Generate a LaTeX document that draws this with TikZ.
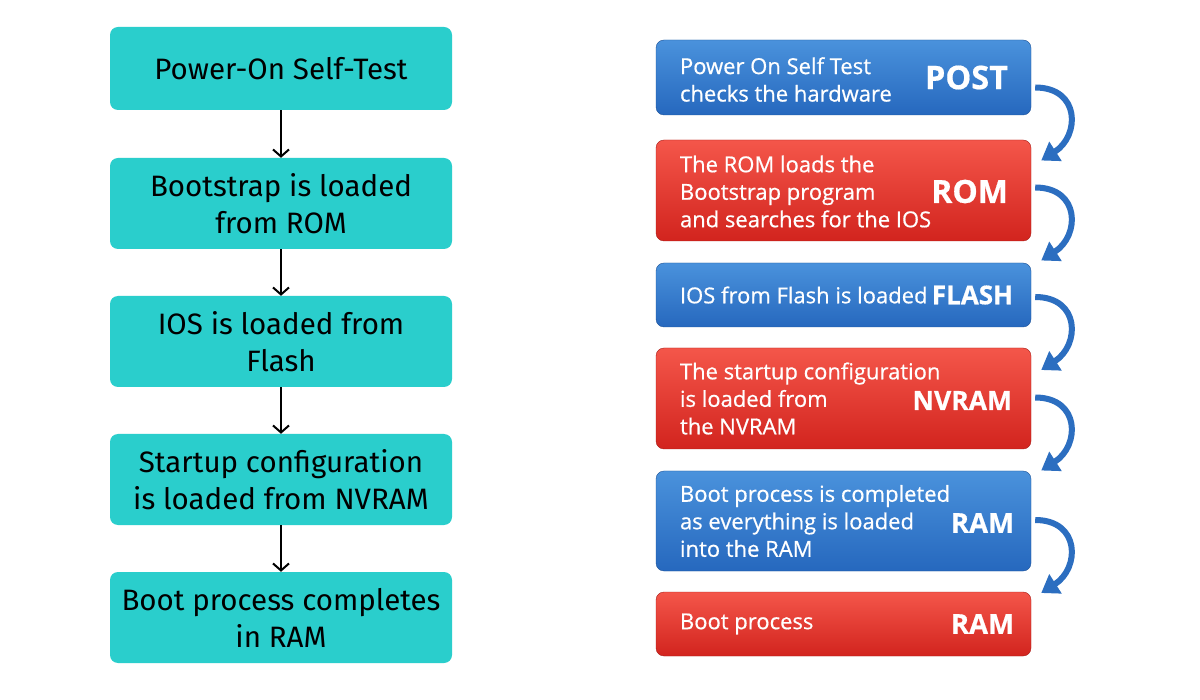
\documentclass[tikz,border=0pt]{standalone}
\usepackage{fontspec}
\setmainfont{Open Sans}
\newfontfamily\lfont{Fira Sans}
\newfontfamily\rfont[FakeBold=0.6]{Open Sans}
\usetikzlibrary{arrows.meta,calc}
\definecolor{teal1}{RGB}{42,206,204}
\definecolor{bluetop}{RGB}{74,146,220}
\definecolor{bluebot}{RGB}{38,104,190}
\definecolor{redtop}{RGB}{244,86,74}
\definecolor{redbot}{RGB}{210,36,30}
\definecolor{arrowblue}{RGB}{44,110,192}
\tikzset{
  lbox/.style={rectangle, rounded corners=8pt, fill=teal1, minimum width=342pt, inner sep=0pt, align=center,
     font=\lfont\fontsize{29.5}{37}\selectfont, text=black},
  bbox/.style={rectangle, rounded corners=8pt, minimum width=375pt, inner sep=0pt, top color=bluetop, bottom color=bluebot, draw=bluebot!80!black, line width=0.4pt},
  rbox/.style={rectangle, rounded corners=8pt, minimum width=375pt, inner sep=0pt, top color=redtop, bottom color=redbot, draw=redbot!80!black, line width=0.4pt},
  rtext/.style={anchor=west, align=left, inner sep=0pt, text=white, font=\rfont\fontsize{22}{27.5}\selectfont},
  rlabel/.style={anchor=east, inner sep=0pt, text=white, font=\rfont\bfseries\fontsize{#1}{34}\selectfont},
  rlabel/.default=31,
  darrow/.style={-{Straight Barb[length=7pt,width=16pt]}, line width=2pt, black},
  carrow/.style={-{Triangle[length=17pt,width=22pt]}, line width=6pt, arrowblue},
}
\begin{document}
\begin{tikzpicture}[x=1pt,y=-1pt]
\useasboundingbox (0,0) rectangle (1200,700);
\fill[white] (0,0) rectangle (1200,700);
% left column
\node[lbox, minimum height=83pt] (l1) at (281,68.5) {Power-On Self-Test};
\node[lbox, minimum height=91pt] (l2) at (281,203.5) {Bootstrap is loaded\\from ROM};
\node[lbox, minimum height=91pt] (l3) at (281,341.5) {IOS is loaded from\\Flash};
\node[lbox, minimum height=91pt] (l4) at (281,479.5) {Startup configuration\\is loaded from NVRAM};
\node[lbox, minimum height=91pt] (l5) at (281,617.5) {Boot process completes\\in RAM};
\draw[darrow] (l1.south) -- (l2.north);
\draw[darrow] (l2.south) -- (l3.north);
\draw[darrow] (l3.south) -- (l4.north);
\draw[darrow] (l4.south) -- (l5.north);
% right column
\node[bbox, minimum height=75pt] (r1) at (843.5,77.5) {};
\node[rbox, minimum height=101pt] (r2) at (843.5,190.5) {};
\node[bbox, minimum height=64pt] (r3) at (843.5,295) {};
\node[rbox, minimum height=101pt] (r4) at (843.5,398.5) {};
\node[bbox, minimum height=100pt] (r5) at (843.5,521) {};
\node[rbox, minimum height=64pt] (r6) at (843.5,624) {};
\node[rtext] (t1) at ([xshift=24pt,yshift=-2pt]r1.west) {Power On Self Test\\checks the hardware};
\node[rtext] (t2) at ([xshift=24pt,yshift=-1pt]r2.west) {The ROM loads the\\Bootstrap program\\and searches for the IOS};
\node[rtext] (t3) at ([xshift=24pt]r3.west) {IOS from Flash is loaded};
\node[rtext] (t4) at ([xshift=24pt]r4.west) {The startup configuration\\is loaded from\\the NVRAM};
\node[rtext] (t5) at ([xshift=24pt]r5.west) {Boot process is completed\\as everything is loaded\\into the RAM};
\node[rtext] (t6) at ([xshift=24pt]r6.west) {Boot process};
\node[rlabel=32.5] (k1) at ([xshift=-23pt]r1.east) {POST};
\node[rlabel=32] (k2) at ([xshift=-23pt,yshift=-1pt]r2.east) {ROM};
\node[rlabel=26] (k3) at ([xshift=-18pt]r3.east) {FLASH};
\node[rlabel=26.5] (k4) at ([xshift=-19pt,yshift=-2pt]r4.east) {NVRAM};
\node[rlabel=27.5] (k5) at ([xshift=-17pt,yshift=-2pt]r5.east) {RAM};
\node[rlabel=27.5] (k6) at ([xshift=-17pt]r6.east) {RAM};
% curved arrows
\coordinate (s1) at ([xshift=4pt,yshift=-10pt]r1.east);
\coordinate (s2) at ([xshift=4pt,yshift=3pt]r2.east);
\coordinate (s3) at ([xshift=4pt,yshift=-2pt]r3.east);
\coordinate (s4) at ([xshift=4pt,yshift=1pt]r4.east);
\coordinate (s5) at ([xshift=4pt,yshift=1pt]r5.east);
\foreach \s/\t in {s1/r2, s2/r3, s3/r4, s4/r5, s5/r6}{
  \draw[carrow] (\s) .. controls ($(\s)+(45,0)$) and ($(\s)+(45,48)$) .. ($(\s)+(6,73)$);
}
\end{tikzpicture}
\end{document}
